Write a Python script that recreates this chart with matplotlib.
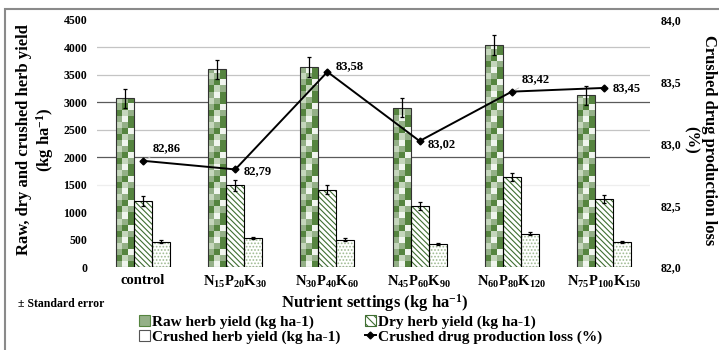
import numpy as np
import matplotlib
matplotlib.use("Agg")
import matplotlib.pyplot as plt
from matplotlib.patches import Rectangle, Patch
from matplotlib.lines import Line2D

plt.rcParams['font.family'] = ['Liberation Serif', 'DejaVu Serif']
plt.rcParams['font.weight'] = 'bold'
plt.rcParams['mathtext.fontset'] = 'custom'
plt.rcParams['mathtext.rm'] = 'Liberation Serif:bold'
plt.rcParams['mathtext.it'] = 'Liberation Serif:bold'
plt.rcParams['mathtext.bf'] = 'Liberation Serif:bold'
plt.rcParams['mathtext.default'] = 'rm'
plt.rcParams['hatch.linewidth'] = 0.8

# ---- data ----
categories = ['control', r'N$_{15}$P$_{20}$K$_{30}$', r'N$_{30}$P$_{40}$K$_{60}$',
              r'N$_{45}$P$_{60}$K$_{90}$', r'N$_{60}$P$_{80}$K$_{120}$',
              r'N$_{75}$P$_{100}$K$_{150}$']
raw_yield = [3070, 3600, 3650, 2900, 4050, 3130]
raw_err = [180, 170, 180, 170, 180, 170]
dry_yield = [1210, 1490, 1410, 1110, 1640, 1240]
dry_err = [90, 100, 80, 70, 80, 70]
crushed_yield = [460, 530, 500, 420, 610, 450]
crushed_err = [30, 20, 20, 20, 25, 15]
loss_pct = [82.86, 82.79, 83.58, 83.02, 83.42, 83.45]
left_ticks = [0, 500, 1000, 1500, 2000, 2500, 3000, 3500, 4000, 4500]
right_ticks = [82.0, 82.5, 83.0, 83.5, 84.0]

DARK = '#55843f'
MID = '#94b087'
LIGHT = '#c5d6bc'
PALE = '#f0f5ee'
HATCH_GREEN = '#3f6e31'

fig = plt.figure(figsize=(7.19, 3.5), dpi=100)
ax = fig.add_axes([97/719, 1-267/350, (650-97)/719, (267-20)/350])

# horizontal grid
grid_style = {1500: '#eeeeee', 2000: '#5a5a5a', 2500: '#c4c4c4',
              3000: '#5a5a5a', 3500: '#c4c4c4', 4000: '#c4c4c4'}
for val, col in grid_style.items():
    ax.axhline(val, color=col, lw=0.9, zorder=0)

x = np.arange(len(categories))
w = 0.195
err_kw = dict(ecolor='black', elinewidth=0.9, capsize=1.5, capthick=0.9)

# raw herb yield: checkerboard fill clipped to each bar
raw_bars = ax.bar(x - w, raw_yield, w, color='none', edgecolor='#333333', lw=0.8,
                  yerr=raw_err, error_kw=err_kw, zorder=3)
cycle = [[MID, PALE, DARK],
         [DARK, LIGHT, MID],
         [MID, DARK, PALE],
         [LIGHT, MID, DARK]]
cell_h = 110
for b in raw_bars:
    nrows = int(np.ceil(b.get_height() / cell_h)) + 1
    img = np.array([[matplotlib.colors.to_rgb(c) for c in cycle[r % 4]]
                    for r in range(nrows)])
    x0 = b.get_x()
    im = ax.imshow(img[::-1], extent=(x0, x0 + b.get_width(), 0, nrows * cell_h),
                   aspect='auto', interpolation='nearest', zorder=2)
    im.set_clip_path(b)
ax.set_xlim(-0.5, 5.5)
ax.set_ylim(0, 4500)

# dry herb yield: diagonal hatch
ax.bar(x, dry_yield, w, color='white', edgecolor=HATCH_GREEN, hatch='\\\\\\\\\\\\', lw=0, zorder=2)
ax.bar(x, dry_yield, w, color='none', edgecolor='black', lw=0.8,
       yerr=dry_err, error_kw=err_kw, zorder=3)

# crushed herb yield: light dotted fill
ax.bar(x + w, crushed_yield, w, color='white', edgecolor='#9fbb92', hatch='.....', lw=0, zorder=2)
ax.bar(x + w, crushed_yield, w, color='none', edgecolor='black', lw=0.8,
       yerr=crushed_err, error_kw=err_kw, zorder=3)

ax.set_xticks(x)
ax.set_xticklabels(categories, fontsize=10.5)
ax.set_yticks(left_ticks)
ax.set_yticklabels([str(t) for t in left_ticks], fontsize=8.5)
ax.tick_params(axis='x', length=0, pad=5)
ax.tick_params(axis='y', length=0, pad=7)
for s in ax.spines.values():
    s.set_visible(False)

# production loss line on secondary axis
ax2 = ax.twinx()
ax2.set_ylim(82, 84)
ax2.set_yticks(right_ticks)
ax2.set_yticklabels([f'{t:.1f}'.replace('.', ',') for t in right_ticks], fontsize=8.5)
ax2.tick_params(axis='y', length=0, pad=8)
for s in ax2.spines.values():
    s.set_visible(False)
ax2.plot(x, loss_pct, color='black', lw=1.4, marker='D', ms=3.5, zorder=5)

offsets = [(7, 9), (6, -1), (6, 4), (6, -2), (7, 9), (6, 0)]
for xi, v, off in zip(x, loss_pct, offsets):
    lbl = f'{v:.2f}'.replace('.', ',')
    if off[1] > 5:
        ax2.annotate(lbl, (xi, v), xytext=off, textcoords='offset points',
                     fontsize=9, ha='left', va='center',
                     arrowprops=dict(arrowstyle='-', color='#bbbbbb', lw=0.6,
                                     shrinkA=0, shrinkB=2))
    else:
        ax2.annotate(lbl, (xi, v), xytext=off, textcoords='offset points',
                     fontsize=9, ha='left', va='center')

# axis titles
fig.text(36/719, 1-140/350, 'Raw, dry and crushed herb yield\n(kg ha$^{-1}$)',
         rotation=90, ha='center', va='center', multialignment='center',
         fontsize=12, linespacing=1.15)
fig.text(700/719, 1-140/350, 'Crushed drug production loss\n(%)',
         rotation=-90, ha='center', va='center', multialignment='center',
         fontsize=12, linespacing=1.15)
fig.text(375/719, 1-303/350, 'Nutrient settings (kg ha$^{-1}$)',
         ha='center', va='center', fontsize=12)
fig.text(18/719, 1-304/350, '± Standard error', ha='left', va='center', fontsize=8.5)

# legend
handles = [
    Patch(facecolor=MID, edgecolor=DARK, lw=0.8, label='Raw herb yield (kg ha-1)'),
    Patch(facecolor='white', edgecolor='#555555', lw=0.8, label='Crushed herb yield (kg ha-1)'),
    Patch(facecolor='white', edgecolor=HATCH_GREEN, hatch='\\\\\\\\', lw=0.8, label='Dry herb yield (kg ha-1)'),
    Line2D([0], [0], color='black', lw=1.4, marker='D', ms=3.5,
           label='Crushed drug production loss (%)'),
]
fig.legend(handles=handles, loc='upper left', bbox_to_anchor=(139/719, 1-315/350),
           ncol=2, frameon=False, fontsize=11, handlelength=0.7, handleheight=0.7,
           handletextpad=0.15, columnspacing=1.6, labelspacing=0.08, borderpad=0,
           borderaxespad=0)

# outer frame
fig.add_artist(Rectangle((5/719, -0.02), 1.0, 1-8.5/350 + 0.02, transform=fig.transFigure,
                         fill=False, edgecolor='#8a8a8a', lw=1.5))

fig.savefig('out.png', dpi=100)
